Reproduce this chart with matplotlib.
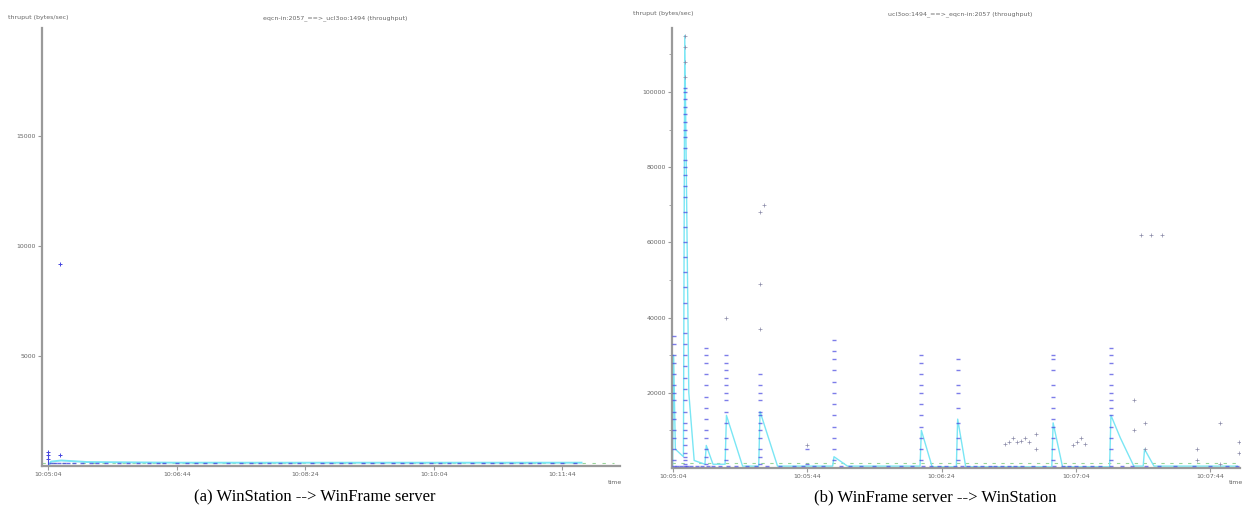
import matplotlib.pyplot as plt
import numpy as np

# ---------- (a) WinStation --> WinFrame server ----------
a_ticks = [0, 100, 200, 300, 400]
a_tick_labels = ["10:05:04", "10:06:44", "10:08:24", "10:10:04", "10:11:44"]
a_yticks = [5000, 10000, 15000]
a_pts_t = [0, 0, 0, 9, 9]
a_pts_v = [300, 500, 650, 500, 9200]
a_base_t = [2, 5, 8, 12, 15, 20, 26, 33, 38, 45, 55, 62, 70, 78, 85, 90, 100, 108,
            115, 122, 130, 140, 150, 158, 165, 172, 180, 188, 195, 205, 213, 220,
            228, 235, 245, 252, 260, 268, 275, 282, 290, 298, 305, 312, 320, 330,
            338, 345, 352, 360, 368, 375, 382, 392, 400, 410]
a_avg_t = [0, 2, 10, 30, 100, 200, 300, 415]
a_avg_v = [0, 200, 250, 180, 150, 150, 150, 150]

# ---------- (b) WinFrame server --> WinStation ----------
b_ticks = [0, 100, 200, 300, 400]
b_tick_labels = ["10:05:04", "10:05:44", "10:06:24", "10:07:04", "10:07:44"]
b_yticks = [20000, 40000, 60000, 80000, 100000]
# spike columns: time -> values (thousands of bytes/sec)
b_spike_t = [0.7, 9, 25, 40, 65, 100, 120, 185, 212, 283, 326]
b_spike_v = [
    [2, 5, 8, 10, 13, 15, 18, 20, 22, 25, 28, 30, 33, 35],
    [1, 2, 3, 4, 6, 8, 10, 12, 15, 18, 21, 24, 27, 30, 33, 36, 40, 44, 48, 52,
     56, 60, 64, 68, 72, 75, 78, 80, 82, 85, 88, 90, 92, 94, 96, 98, 100, 101],
    [1, 3, 5, 8, 10, 13, 16, 19, 22, 25, 28, 30, 32],
    [2, 5, 8, 12, 15, 18, 20, 22, 24, 26, 28, 30],
    [1, 3, 5, 8, 10, 12, 14, 15, 18, 20, 22, 25],
    [1, 5],
    [2, 5, 8, 11, 14, 17, 20, 23, 26, 29, 31, 34],
    [2, 5, 8, 11, 14, 17, 20, 22, 25, 28, 30],
    [2, 5, 8, 12, 16, 20, 22, 26, 29],
    [2, 5, 8, 11, 13, 16, 19, 22, 26, 29, 30],
    [2, 5, 8, 11, 14, 16, 18, 20, 22, 25, 28, 30, 32],
]
# sparse grey crosses (time, thousands)
b_cross_t = [9, 9, 9, 9, 40, 65, 65, 65, 68, 100, 247, 250, 253, 256, 259, 262,
             265, 270, 270, 298, 301, 304, 307, 343, 343, 351, 351, 348, 356, 364,
             390, 390, 407, 407, 421, 421]
b_cross_v = [104, 108, 112, 115, 40, 37, 49, 68, 70, 6, 6.5, 7, 8, 6.8, 7.2, 8,
             7, 9, 5, 6, 7, 8, 6.5, 18, 10, 12, 5, 62, 62, 62, 2, 5, 1, 12, 4, 7]
b_base_t = [1, 3, 6, 9, 11, 14, 18, 22, 26, 30, 35, 41, 47, 55, 62, 70, 80, 90,
            97, 105, 112, 125, 132, 140, 150, 160, 170, 178, 186, 192, 198, 203,
            210, 215, 220, 225, 230, 236, 240, 245, 250, 255, 260, 268, 276, 284,
            290, 295, 300, 306, 312, 318, 326, 334, 342, 352, 362, 374, 388, 400,
            412, 420]
b_avg_t = [0, 0.7, 2, 8, 9, 12, 16, 24, 25, 30, 39, 40, 52, 64, 65, 78, 100, 119,
           120, 130, 184, 185, 193, 211, 212, 218, 282, 283, 290, 325, 326, 333,
           343, 350, 351, 358, 420]
b_avg_v = [0, 30, 5, 3, 115, 20, 2, 1, 6, 1, 1, 14, 0.5, 0.5, 15, 0.5, 0.5, 0.5,
           3, 0.5, 0.5, 10, 0.3, 0.3, 13, 0.3, 0.3, 12, 0.3, 0.3, 14, 8, 0.5, 0.5,
           5, 0.5, 0.5]

fig = plt.figure(figsize=(12.46, 5.25), dpi=100)
grey = '#9a9a9a'
blue = '#4646e0'
cyan = '#7ae6f4'
txt = '#666666'


def style(ax, ticks, labels, yticks, ymax, xlim, minor=None):
    for s in ['top', 'right']:
        ax.spines[s].set_visible(False)
    for s in ['left', 'bottom']:
        ax.spines[s].set_color(grey)
        ax.spines[s].set_linewidth(1.6)
    ax.set_xlim(*xlim)
    ax.set_ylim(0, ymax)
    ax.set_xticks(ticks)
    ax.set_xticklabels(labels, fontsize=4.5, color=txt)
    ax.set_yticks(yticks)
    ax.set_yticklabels([str(v) for v in yticks], fontsize=4.5, color=txt)
    if minor is not None:
        ax.set_yticks(minor, minor=True)
    ax.tick_params(axis='both', length=3, color=grey, pad=1.5)
    ax.tick_params(which='minor', length=2, color=grey)


# left panel
ax1 = fig.add_axes([42 / 1246, 1 - 466 / 525, 578 / 1246, 438 / 525])
style(ax1, a_ticks, a_tick_labels, a_yticks, 19900, (-5, 445))
ax1.plot(a_avg_t, a_avg_v, color=cyan, lw=1.4, zorder=2)
ax1.plot([-5, 440], [150, 150], color='#99d699', lw=0.8, ls=(0, (3, 6)), zorder=1)
ax1.plot(a_base_t, [120] * len(a_base_t), ls='none', marker='_', ms=3,
         mew=1.0, color=blue, alpha=0.8, zorder=3)
ax1.plot(a_pts_t, a_pts_v, ls='none', marker='+', ms=2.5, mew=0.7, color=blue, zorder=3)
ax1.plot([0, 0], [0, 650], color=blue, lw=0.8)
fig.text(8 / 1246, 1 - 18 / 525, "thruput (bytes/sec)", fontsize=4.5, color=txt,
         va='center')
fig.text(335 / 1246, 1 - 18 / 525, "eqcn-in:2057_==>_ucl3oo:1494 (throughput)",
         fontsize=4.5, color=txt, ha='center', va='center')
fig.text(615 / 1246, 1 - 484 / 525, "time", fontsize=4.5, color=txt, ha='center')

# right panel
ax2 = fig.add_axes([672 / 1246, 1 - 468 / 525, 568 / 1246, 440 / 525])
style(ax2, b_ticks, b_tick_labels, b_yticks, 117000, (-0.5, 422),
      minor=[10000, 30000, 50000, 70000, 90000, 110000])
ax2.plot(b_avg_t, np.array(b_avg_v) * 1000, color=cyan, lw=1.0, zorder=2)
ax2.plot([-0.5, 422], [1200, 1200], color='#99d699', lw=0.8, ls=(0, (3, 5)), zorder=1)
for t, vals in zip(b_spike_t, b_spike_v):
    ax2.plot([t] * len(vals), np.array(vals) * 1000, ls='none', marker='_', ms=2.5,
             mew=1.0, color=blue, alpha=0.7, zorder=3)
ax2.plot(b_cross_t, np.array(b_cross_v) * 1000, ls='none', marker='+', ms=3.5,
         mew=0.5, color='#8a8aa8', zorder=3)
ax2.plot(b_base_t, [600] * len(b_base_t), ls='none', marker='_', ms=3, mew=1.0,
         color=blue, alpha=0.7, zorder=3)
fig.text(633 / 1246, 1 - 14 / 525, "thruput (bytes/sec)", fontsize=4.5,
         color=txt, va='center')
fig.text(960 / 1246, 1 - 14 / 525, "ucl3oo:1494_==>_eqcn-in:2057 (throughput)",
         fontsize=4.5, color=txt, ha='center', va='center')
fig.text(1236 / 1246, 1 - 484 / 525, "time", fontsize=4.5, color=txt, ha='center')

# captions
cap_font = dict(fontsize=12, family='Liberation Serif', ha='center', va='center')
fig.text(315 / 1246, 1 - 497 / 525, "(a) WinStation --> WinFrame server", **cap_font)
fig.text(935 / 1246, 1 - 497 / 525, "(b) WinFrame server --> WinStation", **cap_font)

fig.savefig('out.png', dpi=100)
